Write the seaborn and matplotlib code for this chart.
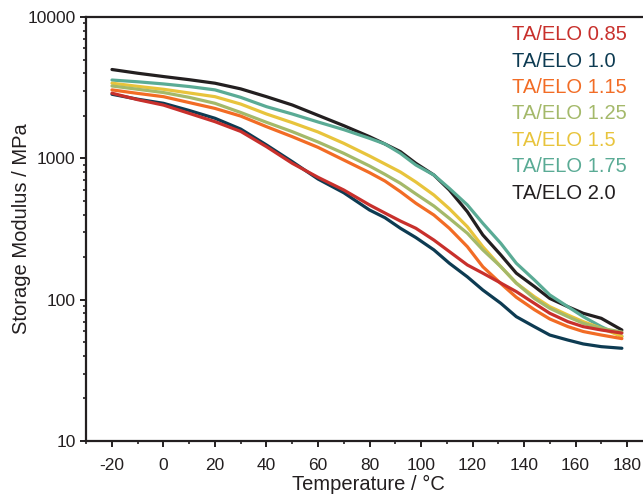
import numpy as np
import pandas as pd
import matplotlib
matplotlib.use("Agg")
import matplotlib.pyplot as plt
import seaborn as sns
from matplotlib.ticker import LogLocator, FixedLocator, NullFormatter

# Temperature sweep (°C)
temperature = [-20, -10, 0, 10, 20, 30, 40, 50, 60, 70, 80, 86, 92, 98, 105,
               111, 118, 124, 131, 137, 144, 150, 157, 163, 170, 178]

# Storage modulus (MPa) for each TA/ELO ratio
e_085 = [2890, 2600, 2380, 2080, 1817, 1550, 1209, 922, 734, 597, 468, 410, 360,
         320, 264, 219, 176, 154, 131, 114, 94.2, 80.1, 69.9, 64.4, 61.0, 58]
e_100 = [2840, 2620, 2450, 2180, 1920, 1610, 1243, 947, 714, 571, 431, 380, 320,
         275, 225, 181, 145, 117, 94.2, 75.8, 64.4, 56.2, 51.8, 48.6, 46.5, 45.3]
e_115 = [3050, 2880, 2730, 2480, 2255, 1990, 1675, 1423, 1196, 973, 792, 691, 581,
         481, 397, 320, 237, 171, 130, 104, 85, 73, 64.5, 59.5, 56.2, 53]
e_125 = [3250, 3080, 2920, 2700, 2450, 2110, 1798, 1544, 1305, 1085, 883, 770, 666,
         560, 460, 376, 295, 225, 171, 131, 102, 86.9, 75.8, 68.0, 62.7, 59]
e_150 = [3400, 3230, 3080, 2900, 2730, 2420, 2059, 1788, 1536, 1277, 1039, 912, 800,
         680, 550, 440, 328, 237, 171, 131, 105, 89.2, 77.9, 69.9, 62.7, 55]
e_175 = [3580, 3480, 3360, 3220, 3050, 2700, 2320, 2059, 1808, 1596, 1385, 1263, 1085,
         897, 762, 613, 468, 347, 250, 181, 138, 108, 89.2, 75.8, 64.4, 55]
e_200 = [4250, 4000, 3790, 3600, 3400, 3100, 2730, 2385, 2015, 1703, 1423, 1263, 1115,
         922, 762, 597, 419, 287, 207, 154, 124, 102, 89.2, 80.1, 73.8, 61]

labels = ["TA/ELO 0.85", "TA/ELO 1.0", "TA/ELO 1.15", "TA/ELO 1.25",
          "TA/ELO 1.5", "TA/ELO 1.75", "TA/ELO 2.0"]
series = [e_085, e_100, e_115, e_125, e_150, e_175, e_200]
colors = ["#c8302c", "#0d3b52", "#f26c25", "#a4b96a",
          "#e8c43c", "#5aab95", "#231f20"]

df = pd.concat(
    [pd.DataFrame({"T": temperature, "E": vals, "sample": lab})
     for lab, vals in zip(labels, series)],
    ignore_index=True,
)

sns.set_theme(style="white")
plt.rcParams["font.family"] = ["Liberation Sans", "DejaVu Sans"]
plt.rcParams["axes.unicode_minus"] = False

ink = "#231f20"
fig = plt.figure(figsize=(6.43, 4.94), dpi=100)
ax = fig.add_axes([0.1337, 0.1073, 0.8663, 0.8583])

# draw in reverse so the low-ratio curves sit on top
for lab, col in list(zip(labels, colors))[::-1]:
    sns.lineplot(data=df[df["sample"] == lab], x="T", y="E", color=col,
                 linewidth=2.3, ax=ax, label=lab, legend=False)

ax.set_yscale("log")
ax.set_xlim(-30.1, 186.2)
ax.set_ylim(10, 10000)

ax.xaxis.set_major_locator(FixedLocator(np.arange(-20, 181, 20)))
ax.xaxis.set_minor_locator(FixedLocator(np.arange(-30, 186, 10)))
ax.yaxis.set_major_locator(FixedLocator([10, 100, 1000, 10000]))
ax.yaxis.set_minor_locator(LogLocator(base=10, subs=np.arange(2, 10)))
ax.yaxis.set_minor_formatter(NullFormatter())
ax.set_yticklabels(["10", "100", "1000", "10000"])

ax.tick_params(axis="both", which="major", direction="out", length=4.5, width=1.4,
               color=ink, labelsize=12.5, labelcolor=ink, pad=3,
               bottom=True, left=True)
ax.tick_params(axis="x", which="major", pad=7.5)
ax.tick_params(axis="both", which="minor", direction="out", length=2.5, width=1.2,
               color=ink, bottom=True, left=True)

for side in ["left", "bottom", "top"]:
    ax.spines[side].set_visible(True)
    ax.spines[side].set_linewidth(1.6)
    ax.spines[side].set_color(ink)
ax.spines["right"].set_visible(False)

ax.set_xlabel("Temperature / °C", fontsize=14.5, color=ink)
ax.set_ylabel("Storage Modulus / MPa", fontsize=14.5, color=ink, labelpad=-3)
ax.xaxis.set_label_coords(0.507, -0.081)

handles, labs = ax.get_legend_handles_labels()
order = [labs.index(l) for l in labels]
leg = ax.legend([handles[i] for i in order], [labs[i] for i in order],
                loc="upper right", bbox_to_anchor=(0.986, 1.0), frameon=False,
                handlelength=0, handletextpad=0, labelcolor="linecolor",
                fontsize=14.5, labelspacing=0.37, borderaxespad=0)
for h in leg.legend_handles:
    h.set_visible(False)

fig.savefig("out.png", dpi=100)
